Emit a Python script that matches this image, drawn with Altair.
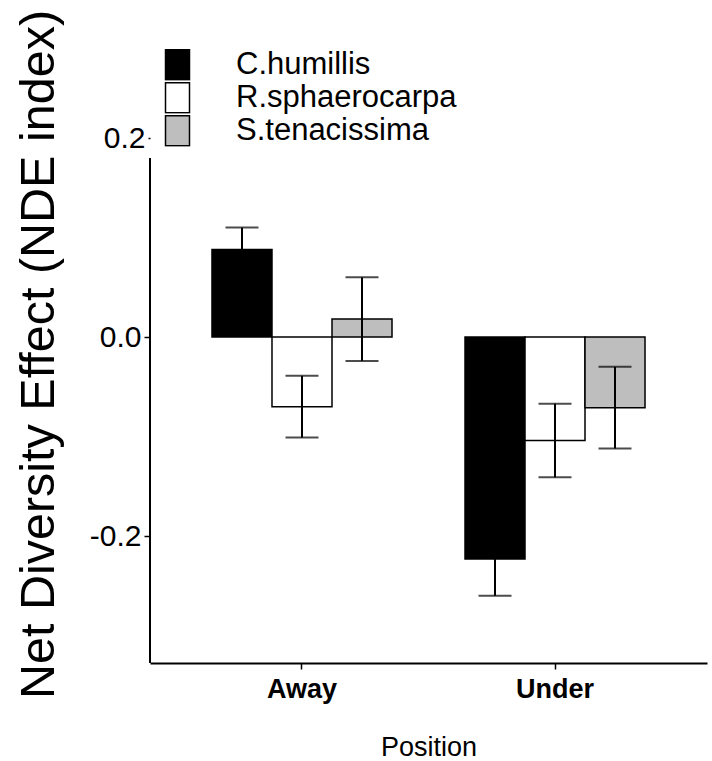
import altair as alt
import pandas as pd

positions = ["Away", "Away", "Away", "Under", "Under", "Under"]
species = ["C.humillis", "R.sphaerocarpa", "S.tenacissima"] * 2
means = [0.088, -0.070, 0.018, -0.223, -0.104, -0.071]
ses = [0.022, 0.031, 0.042, 0.037, 0.037, 0.041]
species_order = ["C.humillis", "R.sphaerocarpa", "S.tenacissima"]
fills = ["#000000", "#FFFFFF", "#BEBEBE"]
y_ticks = [-0.2, 0.0, 0.2]
y_min, y_max = -0.3276, 0.2
axis_line_top = 0.18

FONT = "Liberation Sans"

df = pd.DataFrame({"Position": positions, "Species": species, "mean": means, "se": ses})

xscale = alt.Scale(paddingInner=0.2885, paddingOuter=0.245)
yscale = alt.Scale(domain=[y_min, y_max], nice=False, zero=False)
offscale = alt.Scale(domain=species_order, paddingInner=0, paddingOuter=0)

base = alt.Chart(df).transform_calculate(
    lo="datum.mean - datum.se", hi="datum.mean + datum.se"
)

x_enc = alt.X(
    "Position:N",
    scale=xscale,
    axis=alt.Axis(
        title="Position",
        labelAngle=0,
        labelFontWeight="bold",
        labelFontSize=27,
        labelFont=FONT,
        labelColor="black",
        labelPadding=7,
        tickSize=6,
        tickWidth=1.5,
        tickColor="black",
        domainColor="black",
        domainWidth=2,
        titleFont=FONT,
        titleFontSize=27,
        titleFontWeight="normal",
        titleColor="black",
        titleY=92,
        titleBaseline="alphabetic",
    ),
)

bars = base.mark_bar(stroke="black", strokeWidth=1.5).encode(
    x=x_enc,
    xOffset=alt.XOffset("Species:N", scale=offscale),
    y=alt.Y(
        "mean:Q",
        scale=yscale,
        axis=alt.Axis(
            title="Net Diversity Effect (NDE index)",
            values=y_ticks,
            format=".1f",
            labelExpr="replace(datum.label, '\u2212', '-')",
            domain=False,
            grid=False,
            tickSize={"condition": {"test": "datum.value > 0.1", "value": 2}, "value": 6},
            tickWidth=1.5,
            tickColor="black",
            labelFontSize=30,
            labelFont=FONT,
            labelColor="black",
            labelPadding=3,
            titleFont=FONT,
            titleFontSize=48.5,
            titleFontWeight="normal",
            titleColor="black",
            titleX=-97,
            titleY=216,
            titleAngle=270,
            titleBaseline="alphabetic",
            titleAlign="center",
        ),
    ),
    fill=alt.Fill(
        "Species:N",
        scale=alt.Scale(domain=species_order, range=fills),
        legend=alt.Legend(
            title=None,
            orient="none",
            legendX=12,
            legendY=-89,
            padding=0,
            symbolType="M-1,-1.25H1V1.25H-1Z",
            symbolSize=576,
            symbolStrokeColor="black",
            symbolStrokeWidth=1.5,
            labelFontSize=31,
            labelFont=FONT,
            labelColor="black",
            labelOffset=43,
            labelLimit=0,
            rowPadding=0,
            clipHeight=31.7,
        ),
    ),
)

err = base.mark_rule(color="black", strokeWidth=2).encode(
    x=alt.X("Position:N", scale=xscale),
    xOffset=alt.XOffset("Species:N", scale=offscale),
    y=alt.Y("lo:Q", scale=yscale),
    y2="hi:Q",
)

cap_lo = base.mark_tick(color="black", size=33, thickness=2).encode(
    x=alt.X("Position:N", scale=xscale),
    xOffset=alt.XOffset("Species:N", scale=offscale),
    y=alt.Y("lo:Q", scale=yscale),
)
cap_hi = base.mark_tick(color="black", size=33, thickness=2).encode(
    x=alt.X("Position:N", scale=xscale),
    xOffset=alt.XOffset("Species:N", scale=offscale),
    y=alt.Y("hi:Q", scale=yscale),
)

axis_df = pd.DataFrame({"top": [axis_line_top], "bot": [y_min]})
yline = alt.Chart(axis_df).mark_rule(color="black", strokeWidth=2).encode(
    x=alt.value(0),
    y=alt.Y("top:Q", scale=yscale),
    y2="bot:Q",
)

chart = (
    alt.layer(bars, err, cap_lo, cap_hi, yline)
    .properties(
        width=557,
        height=525,
        background="white",
        autosize=alt.AutoSizeParams(type="none"),
        padding={"left": 150, "top": 138, "right": 5, "bottom": 98},
    )
    .configure_view(stroke="transparent", strokeWidth=0)
    .configure_axis(grid=False)
)

chart.save("out.html", embed_options={"renderer": "svg", "actions": False})
